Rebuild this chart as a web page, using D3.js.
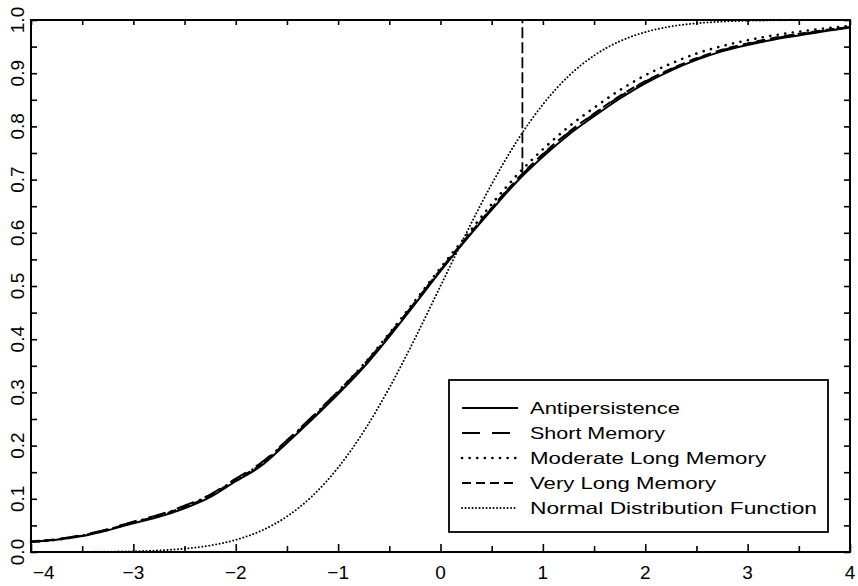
<!DOCTYPE html>
<html><head><meta charset="utf-8">
<script src="https://cdn.jsdelivr.net/npm/d3@7"></script>
<style>
html,body{margin:0;padding:0;background:#fff;}
svg{display:block;}
text{font-family:"Liberation Sans",Arial,sans-serif;fill:#000;}
</style></head>
<body>
<svg id="chart" width="858" height="586"></svg>
<script>
// ---- data ----
const xs = [-4,-3.75,-3.5,-3.25,-3,-2.75,-2.5,-2.25,-2,-1.75,-1.5,-1.25,-1,-0.75,-0.5,-0.25,0,0.25,0.5,0.75,1,1.25,1.5,1.75,2,2.25,2.5,2.75,3,3.25,3.5,3.75,4];
const antipersistence = [0.019,0.023,0.030,0.041,0.054,0.066,0.082,0.103,0.133,0.162,0.205,0.250,0.297,0.347,0.405,0.466,0.528,0.587,0.643,0.697,0.743,0.784,0.819,0.852,0.881,0.905,0.925,0.941,0.953,0.963,0.971,0.979,0.986];
const shortMemory = [0.019,0.024,0.032,0.043,0.057,0.070,0.087,0.108,0.138,0.168,0.210,0.255,0.302,0.352,0.409,0.469,0.530,0.588,0.646,0.700,0.747,0.788,0.823,0.856,0.884,0.907,0.927,0.943,0.955,0.965,0.973,0.980,0.987];
const moderateLongMemory = [0.019,0.023,0.031,0.042,0.056,0.069,0.086,0.107,0.136,0.166,0.209,0.254,0.302,0.353,0.411,0.472,0.534,0.594,0.654,0.709,0.757,0.799,0.835,0.868,0.896,0.918,0.937,0.951,0.962,0.971,0.978,0.984,0.989];
const veryLongMemory = [0.020,0.024,0.031,0.042,0.056,0.068,0.085,0.106,0.136,0.165,0.208,0.252,0.300,0.350,0.408,0.469,0.531,0.590,0.647,0.701,0.748,0.789,0.824,0.857,0.885,0.908,0.928,0.944,0.956,0.966,0.974,0.981,0.987];
const normalCDF = [0.0000,0.0001,0.0002,0.0006,0.0013,0.0030,0.0062,0.0122,0.0228,0.0401,0.0668,0.1056,0.1587,0.2266,0.3085,0.4013,0.5000,0.5987,0.6915,0.7734,0.8413,0.8944,0.9332,0.9599,0.9772,0.9878,0.9938,0.9970,0.9987,0.9994,0.9998,0.9999,1.0000];
const veryLongMemorySpikeX = [0.8,0.8];
const veryLongMemorySpikeY = [0.712,1.0];

const xMajorTicks = [-4,-3,-2,-1,0,1,2,3,4];
const xMajorLabels = ["\u22124","\u22123","\u22122","\u22121","0","1","2","3","4"];
const xMinorTicks = [-3.5,-2.5,-1.5,-0.5,0.5,1.5,2.5,3.5];
const yTicks = [0,0.1,0.2,0.3,0.4,0.5,0.6,0.7,0.8,0.9,1.0];
const yTickLabels = ["0.0","0.1","0.2","0.3","0.4","0.5","0.6","0.7","0.8","0.9","1.0"];
const yMinorTicks = [0.05,0.15,0.25,0.35,0.45,0.55,0.65,0.75,0.85,0.95];

const seriesNames = ["Antipersistence","Short Memory","Moderate Long Memory","Very Long Memory","Normal Distribution Function"];

// ---- drawing ----
const svg = d3.select("#chart");
const L = 31, R = 850, T = 20, B = 552;
const x = d3.scaleLinear().domain([-4,4]).range([L,R]);
const y = d3.scaleLinear().domain([0,1]).range([B,T]);

const styles = [
  {dash:null, w:2, cap:"butt"},
  {dash:"18,12", w:2, cap:"butt"},
  {dash:"0.1,7.5", w:2.6, cap:"round"},
  {dash:"9,5", w:2, cap:"butt"},
  {dash:"0.1,3.4", w:1.9, cap:"round"}
];
const seriesValues = [antipersistence, shortMemory, moderateLongMemory, veryLongMemory, normalCDF];

function axisClean(g){ g.select(".domain").remove(); g.selectAll(".tick line").attr("stroke","#000").attr("stroke-width",1.6); }

// bottom ticks
svg.append("g").attr("transform",`translate(0,${B})`)
  .call(d3.axisBottom(x).tickValues(xMajorTicks).tickSize(-8).tickFormat(""))
  .call(axisClean);
svg.append("g").attr("transform",`translate(0,${B})`)
  .call(d3.axisBottom(x).tickValues(xMinorTicks).tickSize(-6).tickFormat(""))
  .call(axisClean);
// top ticks
svg.append("g").attr("transform",`translate(0,${T})`)
  .call(d3.axisTop(x).tickValues(xMajorTicks.concat(xMinorTicks)).tickSize(-5).tickFormat(""))
  .call(axisClean);
// left ticks
svg.append("g").attr("transform",`translate(${L},0)`)
  .call(d3.axisLeft(y).tickValues(yTicks.concat(yMinorTicks)).tickSize(-6).tickFormat(""))
  .call(axisClean);
// right ticks
svg.append("g").attr("transform",`translate(${R},0)`)
  .call(d3.axisRight(y).tickValues(yTicks.concat(yMinorTicks)).tickSize(-6).tickFormat(""))
  .call(axisClean);

// x labels
svg.append("g").selectAll("text").data(xMajorTicks).join("text")
  .attr("x", (d,i)=> i===0 ? x(d)+2 : x(d))
  .attr("y", 579)
  .attr("text-anchor", (d,i)=> i===0 ? "start" : "middle")
  .attr("font-size", 19)
  .text((d,i)=>xMajorLabels[i]);

// y labels (rotated)
svg.append("g").selectAll("text").data(yTicks).join("text")
  .attr("transform", d=>`translate(24,${y(d)}) rotate(-90)`)
  .attr("text-anchor","middle")
  .attr("font-size", 19)
  .text((d,i)=>yTickLabels[i]);

// curves
const line = d3.line().x(d=>x(d[0])).y(d=>y(d[1])).curve(d3.curveMonotoneX);
const order = [4,0,1,3,2];
order.forEach(k=>{
  const pts = xs.map((xv,i)=>[xv, seriesValues[k][i]]);
  const s = styles[k];
  svg.append("path").datum(pts).attr("d",line)
    .attr("fill","none").attr("stroke","#000").attr("stroke-width",s.w)
    .attr("stroke-linecap",s.cap)
    .attr("stroke-dasharray",s.dash);
});
// very long memory vertical spike
svg.append("path")
  .datum(veryLongMemorySpikeX.map((v,i)=>[v, veryLongMemorySpikeY[i]]))
  .attr("d", d3.line().x(d=>x(d[0])).y(d=>y(d[1])))
  .attr("fill","none").attr("stroke","#000").attr("stroke-width",1.8)
  .attr("stroke-dasharray","11,4");

// frame
svg.append("rect").attr("x",L).attr("y",T).attr("width",R-L).attr("height",B-T)
  .attr("fill","none").attr("stroke","#000").attr("stroke-width",2);

// legend
const lg = svg.append("g");
lg.append("rect").attr("x",449).attr("y",380).attr("width",379).attr("height",152)
  .attr("fill","#fff").attr("stroke","#000").attr("stroke-width",1.8);
const textLens = [150,135,236,186,287];
seriesNames.forEach((name,i)=>{
  const cy = 408 + i*25;
  const s = styles[i];
  lg.append("line").attr("x1",462).attr("x2",518).attr("y1",cy).attr("y2",cy)
    .attr("stroke","#000").attr("stroke-width",s.w).attr("stroke-linecap",s.cap)
    .attr("stroke-dasharray",s.dash);
  lg.append("text").attr("x",530).attr("y",cy+6).attr("font-size",16.5)
    .attr("textLength",textLens[i]).attr("lengthAdjust","spacingAndGlyphs")
    .text(name);
});
</script>
</body></html>
